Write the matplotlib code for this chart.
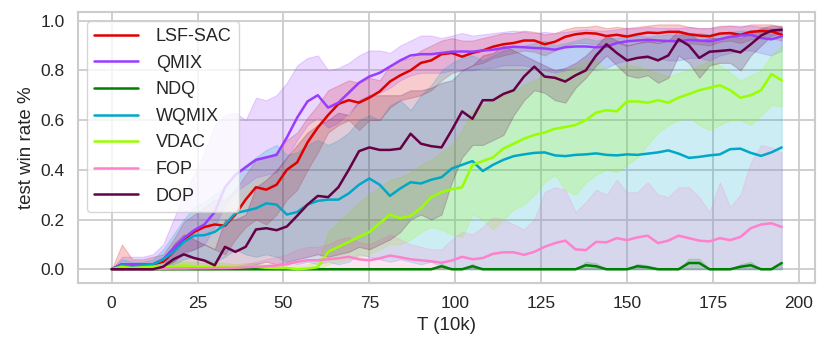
import numpy as np
import matplotlib
matplotlib.use('Agg')
import matplotlib.pyplot as plt
import seaborn as sns

sns.set_theme(style='whitegrid')
plt.rcParams['font.family'] = ['Liberation Sans', 'DejaVu Sans']

# x axis: T (10k), one sample every 3 units
T = np.arange(0, 196, 3)

# ---------------------------------------------------------------- LSF-SAC
lsf_mean = [0.0, 0.02, 0.015, 0.02, 0.02, 0.03, 0.07, 0.12, 0.15, 0.17, 0.18, 0.175, 0.22,
            0.28, 0.33, 0.32, 0.34, 0.40, 0.43, 0.51, 0.57, 0.62, 0.665, 0.68, 0.67, 0.69,
            0.715, 0.755, 0.78, 0.80, 0.83, 0.84, 0.865, 0.87, 0.855, 0.87, 0.88, 0.895, 0.905,
            0.91, 0.92, 0.92, 0.905, 0.915, 0.935, 0.945, 0.95, 0.948, 0.938, 0.943, 0.936,
            0.945, 0.952, 0.95, 0.955, 0.955, 0.945, 0.94, 0.937, 0.948, 0.95, 0.943, 0.955,
            0.958, 0.957, 0.943]
lsf_lo = [0.0, 0.0, 0.0, 0.005, 0.005, 0.01, 0.03, 0.07, 0.08, 0.10, 0.08, 0.06, 0.12, 0.17,
          0.20, 0.18, 0.22, 0.28, 0.32, 0.40, 0.47, 0.55, 0.58, 0.60, 0.56, 0.60, 0.60, 0.65,
          0.68, 0.69, 0.70, 0.72, 0.76, 0.79, 0.80, 0.82, 0.83, 0.85, 0.86, 0.87, 0.88, 0.875,
          0.86, 0.88, 0.90, 0.91, 0.91, 0.905, 0.90, 0.91, 0.90, 0.91, 0.915, 0.91, 0.92, 0.92,
          0.91, 0.905, 0.90, 0.915, 0.92, 0.91, 0.925, 0.93, 0.93, 0.92]
lsf_hi = [0.0, 0.10, 0.04, 0.04, 0.05, 0.06, 0.12, 0.19, 0.22, 0.25, 0.28, 0.28, 0.32, 0.38,
          0.44, 0.45, 0.47, 0.52, 0.55, 0.61, 0.66, 0.72, 0.74, 0.76, 0.75, 0.77, 0.76, 0.82,
          0.84, 0.85, 0.88, 0.90, 0.92, 0.93, 0.92, 0.92, 0.93, 0.94, 0.95, 0.95, 0.96, 0.955,
          0.945, 0.95, 0.965, 0.975, 0.975, 0.98, 0.97, 0.975, 0.97, 0.975, 0.98, 0.985, 0.985,
          0.985, 0.975, 0.97, 0.97, 0.98, 0.98, 0.975, 0.985, 0.985, 0.985, 0.975]

# ---------------------------------------------------------------- QMIX
qmix_mean = [0.0, 0.02, 0.02, 0.02, 0.02, 0.04, 0.085, 0.125, 0.157, 0.18, 0.23, 0.33, 0.38,
             0.41, 0.44, 0.45, 0.46, 0.53, 0.61, 0.675, 0.70, 0.65, 0.67, 0.71, 0.75, 0.775,
             0.79, 0.815, 0.84, 0.86, 0.865, 0.865, 0.87, 0.875, 0.876, 0.875, 0.88, 0.883,
             0.89, 0.895, 0.893, 0.89, 0.888, 0.883, 0.893, 0.896, 0.896, 0.893, 0.895, 0.91,
             0.917, 0.92, 0.923, 0.92, 0.918, 0.917, 0.922, 0.92, 0.917, 0.925, 0.935, 0.94,
             0.943, 0.93, 0.925, 0.937]
qmix_lo = [0.0, 0.0, 0.0, 0.005, 0.005, 0.01, 0.03, 0.06, 0.08, 0.10, 0.17, 0.26, 0.31, 0.34,
           0.37, 0.38, 0.39, 0.45, 0.52, 0.58, 0.61, 0.57, 0.59, 0.63, 0.67, 0.70, 0.71, 0.73,
           0.76, 0.78, 0.79, 0.79, 0.79, 0.80, 0.80, 0.80, 0.81, 0.81, 0.82, 0.82, 0.82, 0.81,
           0.80, 0.79, 0.80, 0.81, 0.81, 0.80, 0.81, 0.83, 0.84, 0.85, 0.85, 0.85, 0.84, 0.84,
           0.85, 0.85, 0.84, 0.86, 0.87, 0.88, 0.88, 0.87, 0.86, 0.88]
qmix_hi = [0.0, 0.05, 0.05, 0.05, 0.06, 0.10, 0.20, 0.30, 0.38, 0.47, 0.58, 0.62, 0.63, 0.60,
           0.69, 0.68, 0.70, 0.75, 0.82, 0.85, 0.86, 0.80, 0.81, 0.83, 0.86, 0.88, 0.88, 0.87,
           0.90, 0.92, 0.94, 0.94, 0.93, 0.94, 0.95, 0.94, 0.945, 0.95, 0.955, 0.96, 0.955,
           0.95, 0.955, 0.95, 0.955, 0.96, 0.965, 0.96, 0.96, 0.965, 0.97, 0.97, 0.975, 0.97,
           0.97, 0.97, 0.975, 0.97, 0.97, 0.975, 0.98, 0.98, 0.98, 0.975, 0.97, 0.975]

# ---------------------------------------------------------------- NDQ
ndq_mean = [0.0] * 32 + [0.012, 0.0, 0.0, 0.012] + [0.0] * 10 + \
           [0.016, 0.012, 0.0, 0.0, 0.0, 0.012, 0.008, 0.0, 0.0, 0.0,
            0.025, 0.025, 0.0, 0.0, 0.0, 0.01, 0.016, 0.0, 0.0, 0.025]
ndq_lo = [0.0] * 66
ndq_hi = [0.0] * 32 + [0.022, 0.0, 0.0, 0.022] + [0.0] * 10 + \
         [0.03, 0.024, 0.0, 0.0, 0.0, 0.022, 0.015, 0.0, 0.0, 0.0,
          0.042, 0.042, 0.0, 0.0, 0.0, 0.02, 0.03, 0.0, 0.0, 0.03]

# ---------------------------------------------------------------- WQMIX
wqmix_mean = [0.0, 0.016, 0.01, 0.015, 0.02, 0.04, 0.07, 0.11, 0.135, 0.137, 0.15, 0.18,
              0.225, 0.235, 0.245, 0.265, 0.26, 0.22, 0.23, 0.26, 0.275, 0.28, 0.28, 0.305,
              0.34, 0.365, 0.34, 0.295, 0.325, 0.35, 0.345, 0.36, 0.37, 0.405, 0.42, 0.435,
              0.395, 0.42, 0.44, 0.455, 0.462, 0.468, 0.47, 0.458, 0.455, 0.46, 0.462, 0.466,
              0.46, 0.458, 0.462, 0.46, 0.465, 0.47, 0.478, 0.465, 0.448, 0.452, 0.458, 0.462,
              0.483, 0.485, 0.468, 0.456, 0.47, 0.49]
wqmix_lo = [0.0, 0.0, 0.0, 0.0, 0.0, 0.01, 0.02, 0.04, 0.05, 0.04, 0.03, 0.05, 0.08, 0.06,
            0.05, 0.06, 0.05, 0.03, 0.02, 0.03, 0.02, 0.03, 0.02, 0.03, 0.06, 0.05, 0.04,
            0.03, 0.04, 0.03, 0.02, 0.03, 0.01] + [0.0] * 33
wqmix_hi = [0.0, 0.04, 0.03, 0.03, 0.04, 0.08, 0.14, 0.20, 0.25, 0.27, 0.30, 0.33, 0.38,
            0.42, 0.45, 0.48, 0.50, 0.46, 0.47, 0.50, 0.52, 0.50, 0.52, 0.55, 0.60, 0.62,
            0.60, 0.66, 0.68, 0.64, 0.70, 0.74, 0.80, 0.83, 0.85, 0.86, 0.84, 0.86, 0.88,
            0.89, 0.90, 0.91, 0.92, 0.90, 0.91, 0.92, 0.93, 0.92, 0.93, 0.93, 0.94, 0.94,
            0.935, 0.94, 0.945, 0.94, 0.95, 0.95, 0.945, 0.95, 0.955, 0.96, 0.96, 0.965,
            0.965, 0.97]

# ---------------------------------------------------------------- VDAC
vdac_mean = [0.0, 0.01, 0.005, 0.008, 0.01, 0.01, 0.01, 0.015, 0.012, 0.01, 0.012, 0.01,
             0.008, 0.01, 0.01, 0.006, 0.005, 0.005, 0.0, 0.003, 0.008, 0.07, 0.09, 0.11,
             0.13, 0.15, 0.185, 0.22, 0.205, 0.215, 0.245, 0.29, 0.31, 0.322, 0.33, 0.42,
             0.435, 0.45, 0.485, 0.505, 0.525, 0.54, 0.55, 0.565, 0.572, 0.58, 0.60, 0.63,
             0.64, 0.635, 0.675, 0.675, 0.67, 0.68, 0.67, 0.69, 0.705, 0.72, 0.73, 0.74, 0.72,
             0.69, 0.70, 0.72, 0.785, 0.76]
vdac_lo = [0.0] * 21 + [0.02, 0.03, 0.04, 0.05, 0.06, 0.08, 0.10, 0.10, 0.12, 0.15, 0.17,
                        0.16, 0.14, 0.13, 0.22, 0.20, 0.16, 0.20, 0.24, 0.26, 0.30, 0.35,
                        0.38, 0.32, 0.30, 0.35, 0.38, 0.40, 0.39, 0.42, 0.45, 0.50, 0.55,
                        0.58, 0.60, 0.61, 0.58, 0.56, 0.58, 0.60, 0.60, 0.58, 0.62, 0.66, 0.655]
vdac_hi = [0.0, 0.02, 0.015, 0.02, 0.02, 0.025, 0.03, 0.03, 0.03, 0.025, 0.03, 0.025, 0.02,
           0.025, 0.025, 0.02, 0.02, 0.02, 0.015, 0.02, 0.03, 0.15, 0.19, 0.23, 0.27, 0.30,
           0.33, 0.36, 0.37, 0.39, 0.42, 0.44, 0.47, 0.50, 0.56, 0.64, 0.66, 0.68, 0.70, 0.72,
           0.74, 0.76, 0.78, 0.78, 0.80, 0.82, 0.84, 0.84, 0.80, 0.81, 0.82, 0.815, 0.80,
           0.79, 0.775, 0.79, 0.80, 0.82, 0.84, 0.82, 0.79, 0.76, 0.78, 0.80, 0.86, 0.90]

# ---------------------------------------------------------------- FOP
fop_mean = [0.0, 0.0, 0.0, 0.0, 0.0, 0.002, 0.003, 0.003, 0.004, 0.004, 0.005, 0.005, 0.006,
            0.008, 0.01, 0.012, 0.015, 0.02, 0.03, 0.036, 0.036, 0.04, 0.044, 0.05, 0.04,
            0.036, 0.044, 0.055, 0.048, 0.04, 0.036, 0.032, 0.026, 0.035, 0.05, 0.04, 0.045,
            0.062, 0.068, 0.068, 0.058, 0.07, 0.09, 0.105, 0.115, 0.08, 0.077, 0.11, 0.108,
            0.125, 0.117, 0.128, 0.135, 0.105, 0.115, 0.135, 0.125, 0.115, 0.112, 0.125, 0.117,
            0.13, 0.165, 0.18, 0.185, 0.17]
fop_lo = [0.0] * 66
fop_hi = [0.0, 0.005, 0.005, 0.005, 0.005, 0.008, 0.01, 0.01, 0.01, 0.01, 0.01, 0.01, 0.01,
          0.02, 0.03, 0.04, 0.05, 0.06, 0.08, 0.09, 0.09, 0.10, 0.12, 0.13, 0.11, 0.10, 0.12,
          0.14, 0.12, 0.10, 0.09, 0.08, 0.08, 0.12, 0.15, 0.14, 0.17, 0.21, 0.20, 0.18, 0.16,
          0.20, 0.31, 0.33, 0.32, 0.23, 0.27, 0.32, 0.30, 0.36, 0.31, 0.31, 0.35, 0.30, 0.29,
          0.33, 0.33, 0.29, 0.23, 0.35, 0.25, 0.30, 0.43, 0.50, 0.49, 0.47]

# ---------------------------------------------------------------- DOP
dop_mean = [0.0, 0.0, 0.0, 0.0, 0.0, 0.01, 0.04, 0.06, 0.045, 0.035, 0.016, 0.09, 0.07, 0.09,
            0.16, 0.165, 0.157, 0.172, 0.215, 0.26, 0.295, 0.29, 0.33, 0.40, 0.475, 0.49, 0.48,
            0.48, 0.485, 0.545, 0.505, 0.495, 0.49, 0.56, 0.635, 0.605, 0.68, 0.68, 0.705, 0.72,
            0.775, 0.815, 0.775, 0.77, 0.755, 0.78, 0.80, 0.86, 0.905, 0.87, 0.84, 0.85, 0.855,
            0.84, 0.86, 0.925, 0.90, 0.85, 0.875, 0.878, 0.882, 0.872, 0.905, 0.94, 0.96, 0.963]
dop_lo = [0.0, 0.0, 0.0, 0.0, 0.0, 0.0, 0.0, 0.01, 0.0, 0.0, 0.0, 0.01, 0.0, 0.01, 0.02, 0.03,
          0.02, 0.03, 0.04, 0.05, 0.06, 0.05, 0.06, 0.07, 0.09, 0.08, 0.10, 0.12, 0.15, 0.20,
          0.22, 0.20, 0.22, 0.35, 0.45, 0.50, 0.50, 0.52, 0.54, 0.62, 0.68, 0.72, 0.71, 0.68,
          0.67, 0.73, 0.77, 0.82, 0.86, 0.82, 0.78, 0.77, 0.78, 0.75, 0.77, 0.86, 0.83, 0.77,
          0.82, 0.83, 0.83, 0.80, 0.86, 0.90, 0.94, 0.95]
dop_hi = [0.0, 0.0, 0.0, 0.0, 0.0, 0.01, 0.10, 0.14, 0.12, 0.10, 0.08, 0.20, 0.20, 0.22, 0.33,
          0.36, 0.40, 0.45, 0.50, 0.55, 0.58, 0.60, 0.63, 0.62, 0.68, 0.70, 0.70, 0.70, 0.70,
          0.72, 0.72, 0.73, 0.75, 0.76, 0.80, 0.82, 0.86, 0.87, 0.90, 0.88, 0.86, 0.84, 0.82,
          0.80, 0.81, 0.83, 0.86, 0.90, 0.94, 0.92, 0.90, 0.91, 0.92, 0.91, 0.92, 0.96, 0.95,
          0.92, 0.93, 0.93, 0.94, 0.93, 0.95, 0.97, 0.98, 0.98]

labels = ['LSF-SAC', 'QMIX', 'NDQ', 'WQMIX', 'VDAC', 'FOP', 'DOP']
means = [lsf_mean, qmix_mean, ndq_mean, wqmix_mean, vdac_mean, fop_mean, dop_mean]
lows = [lsf_lo, qmix_lo, ndq_lo, wqmix_lo, vdac_lo, fop_lo, dop_lo]
highs = [lsf_hi, qmix_hi, ndq_hi, wqmix_hi, vdac_hi, fop_hi, dop_hi]
colors = ['#e00000', '#9a3cff', '#008000', '#00a8c8', '#99ff00', '#ff80cc', '#660044']

fig, ax = plt.subplots(figsize=(8.31, 3.51), dpi=100)
fig.subplots_adjust(left=0.094, right=0.981, bottom=0.194, top=0.966)

for lab, m, lo, hi, c in zip(labels, means, lows, highs, colors):
    ax.fill_between(T, lo, hi, color=c, alpha=0.2, linewidth=0.8)
    ax.plot(T, m, color=c, linewidth=1.8, label=lab)

ax.set_xlim(-9.75, 204.75)
ax.set_ylim(-0.055, 1.035)
ax.set_xticks([0, 25, 50, 75, 100, 125, 150, 175, 200])
ax.set_yticks([0.0, 0.2, 0.4, 0.6, 0.8, 1.0])
ax.tick_params(labelsize=12.5)
ax.set_xlabel('T (10k)', fontsize=13.5)
ax.set_ylabel('test win rate %', fontsize=13.5)
ax.grid(color='#cccccc', linewidth=1.3)
for s in ax.spines.values():
    s.set_color('#cccccc')
    s.set_linewidth(1.5)

ax.legend(loc='upper left', fontsize=13, handlelength=2.4, labelspacing=0.53,
          borderpad=0.4, handletextpad=1.0, framealpha=0.8)

fig.savefig('out.png', dpi=100)
